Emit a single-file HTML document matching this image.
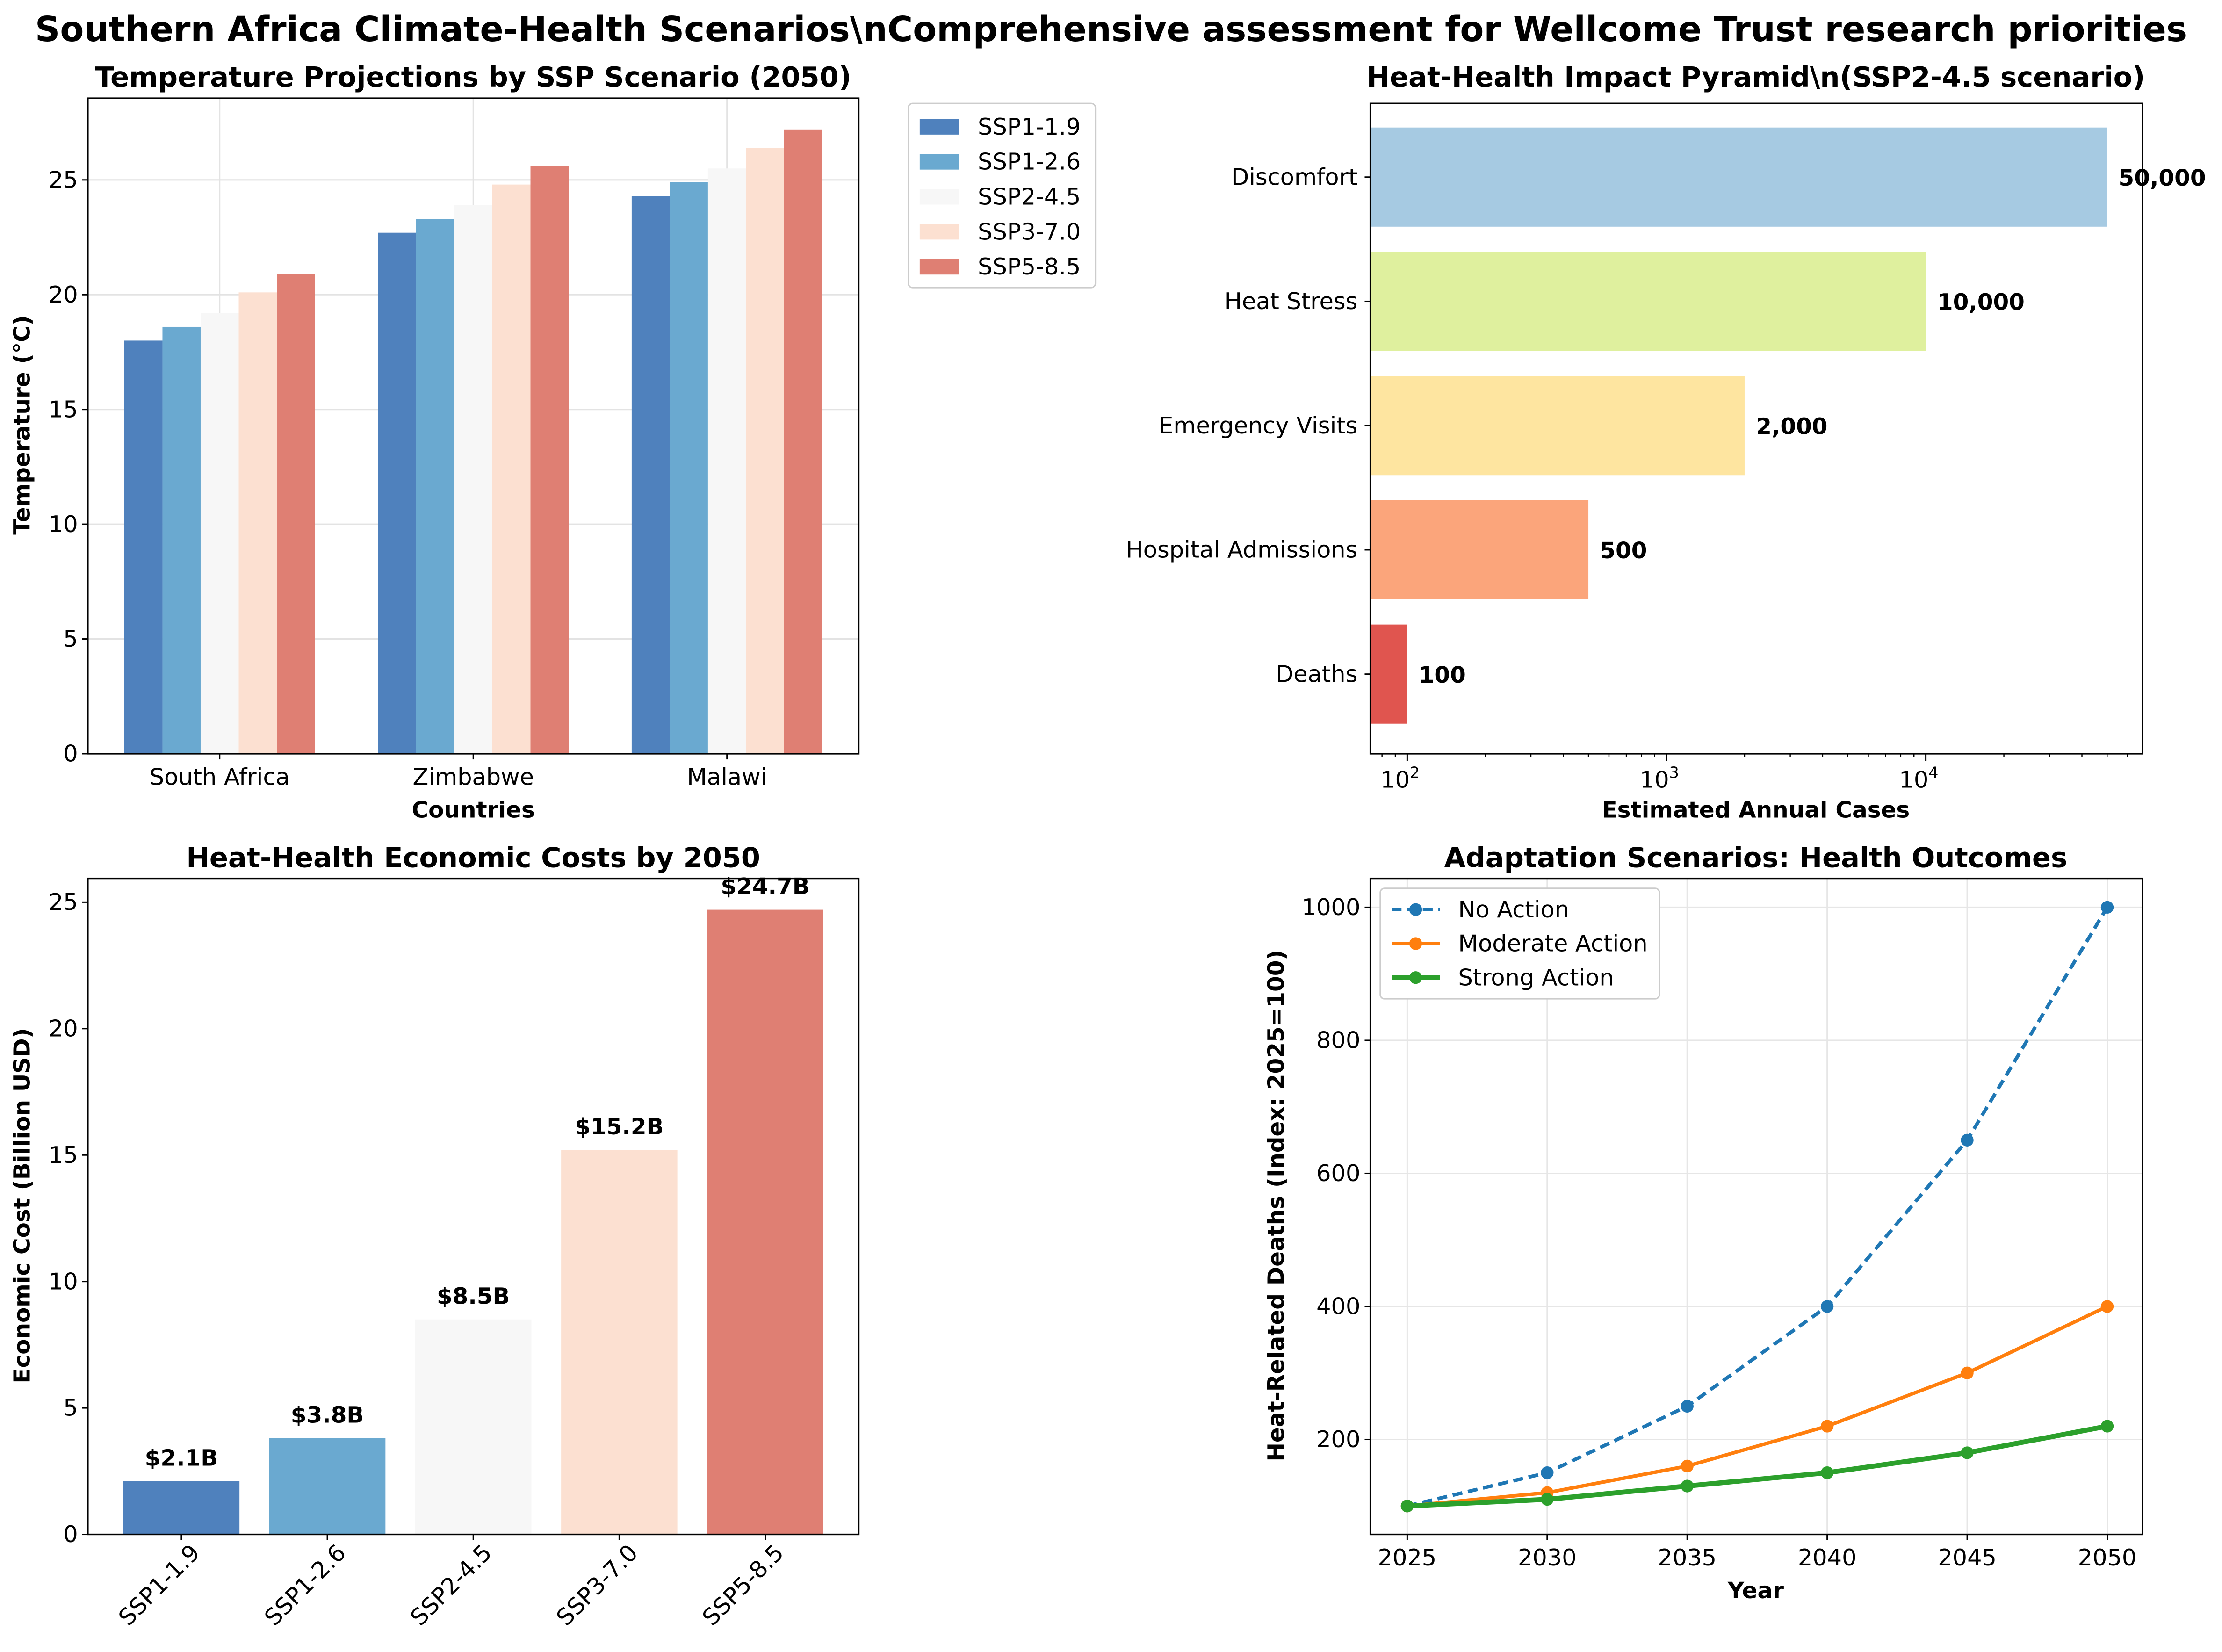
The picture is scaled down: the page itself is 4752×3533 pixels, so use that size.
<!DOCTYPE html>
<html><head><meta charset="utf-8"><style>
html,body{margin:0;padding:0;background:#fff}
svg{display:block;font-family:"DejaVu Sans","Liberation Sans",sans-serif}
</style></head><body>
<svg id="fig" width="4752" height="3533" viewBox="0 0 1568 1166" preserveAspectRatio="none" xmlns="http://www.w3.org/2000/svg">
<rect width="1568" height="1166" fill="#fff"/>
<text x="784" y="29" text-anchor="middle" font-size="24.5" font-weight="bold">Southern Africa Climate-Health Scenarios\nComprehensive assessment for Wellcome Trust research priorities</text>
<g id="p1"></g>
<g id="p2"></g>
<g id="p3"></g>
<g id="p4"></g>
</svg>
<script>
const countries=["South Africa","Zimbabwe","Malawi"];
const scenarios=["SSP1-1.9","SSP1-2.6","SSP2-4.5","SSP3-7.0","SSP5-8.5"];
const tempSA=[18.0,18.6,19.2,20.1,20.9];
const tempZW=[22.7,23.3,23.9,24.8,25.6];
const tempMW=[24.3,24.9,25.5,26.4,27.2];
const tempTicks=[0,5,10,15,20,25];
const impactCats=["Discomfort","Heat Stress","Emergency Visits","Hospital Admissions","Deaths"];
const impactVals=[50000,10000,2000,500,100];
const impactLabels=["50,000","10,000","2,000","500","100"];
const costVals=[2.1,3.8,8.5,15.2,24.7];
const costLabels=["$2.1B","$3.8B","$8.5B","$15.2B","$24.7B"];
const costTicks=[0,5,10,15,20,25];
const years=[2025,2030,2035,2040,2045,2050];
const noAction=[100,150,250,400,650,1000];
const moderate=[100,120,160,220,300,400];
const strong=[100,110,130,150,180,220];
const adaptTicks=[200,400,600,800,1000];

const NS="http://www.w3.org/2000/svg";
const TF=16.3, AF=16, PF=19.5, VF=16;
const scenColors=["#4f81bd","#6aa9d0","#f7f7f7","#fce0d1","#df7f73"];
function mk(parent,tag,attrs,txt){const e=document.createElementNS(NS,tag);for(const k in attrs)e.setAttribute(k,attrs[k]);if(txt!==undefined)e.textContent=txt;parent.appendChild(e);return e;}
function frame(g,x0,y0,x1,y1){const r=mk(g,"rect",{x:x0,y:y0,width:x1-x0,height:y1-y0,fill:"none",stroke:"#000","stroke-width":1.1});}

// Panel 1
(function(){
const g=document.getElementById("p1");
const X0=62,X1=606,Y1=532;
const y=v=>Y1-v*16.2;
const Y0=y(28.56);
const centers=[155,334,513];const bw=26.9;
tempTicks.forEach(t=>{mk(g,"line",{x1:X0,x2:X1,y1:y(t),y2:y(t),stroke:"#e3e3e3","stroke-width":1});});
centers.forEach(c=>{mk(g,"line",{x1:c,x2:c,y1:Y0,y2:Y1,stroke:"#e3e3e3","stroke-width":1});});
const series=[tempSA,tempZW,tempMW];
series.forEach((arr,ci)=>{arr.forEach((v,si)=>{
 const r=mk(g,"rect",{x:centers[ci]+(si-2.5)*bw,y:y(v),width:bw,height:Y1-y(v),fill:scenColors[si]});
 
 
});});
frame(g,X0,Y0,X1,Y1);
tempTicks.forEach(t=>{mk(g,"line",{x1:X0-4,x2:X0,y1:y(t),y2:y(t),stroke:"#000"});const l=mk(g,"text",{x:X0-7,y:y(t)+5.5,"text-anchor":"end","font-size":TF},t);});
countries.forEach((c,i)=>{mk(g,"line",{x1:centers[i],x2:centers[i],y1:Y1,y2:Y1+4,stroke:"#000"});const l=mk(g,"text",{x:centers[i],y:Y1+22,"text-anchor":"middle","font-size":TF},c);});
let t=mk(g,"text",{x:334,y:61,"text-anchor":"middle","font-size":PF,"font-weight":"bold"},"Temperature Projections by SSP Scenario (2050)");
t=mk(g,"text",{x:334,y:577,"text-anchor":"middle","font-size":AF,"font-weight":"bold"},"Countries");
t=mk(g,"text",{x:0,y:0,"text-anchor":"middle","font-size":AF,"font-weight":"bold",transform:"translate(21,300) rotate(-90)"},"Temperature (°C)");
const lg=mk(g,"g",{});
mk(lg,"rect",{x:641,y:73,width:132,height:130,rx:3,fill:"#fff",stroke:"#ccc"});
scenarios.forEach((s,i)=>{const yy=90+i*24.7;mk(lg,"rect",{x:649,y:yy-6,width:28,height:11,fill:scenColors[i]});const l=mk(lg,"text",{x:690,y:yy+5,"font-size":TF},s);});
})();

// Panel 2
(function(){
const g=document.getElementById("p2");
const X0=967,X1=1512,Y0=73,Y1=532;
const x=v=>993+(Math.log10(v)-2)*183;
const cols=["#a6cae2","#dff09e","#fee5a0","#fba57b","#e0554f"];
impactCats.forEach((c,i)=>{const cy=125+i*87.7;
 const r=mk(g,"rect",{x:X0,y:cy-35,width:x(impactVals[i])-X0,height:70,fill:cols[i]});
 
 mk(g,"text",{x:x(impactVals[i])+8,y:cy+6,"font-size":VF,"font-weight":"bold"},impactLabels[i]);
 mk(g,"line",{x1:X0-4,x2:X0,y1:cy,y2:cy,stroke:"#000"});
 const l=mk(g,"text",{x:X0-9,y:cy+5.5,"text-anchor":"end","font-size":TF},c);
});
frame(g,X0,Y0,X1,Y1);
[2,3,4].forEach(p=>{const xx=x(Math.pow(10,p));mk(g,"line",{x1:xx,x2:xx,y1:Y1,y2:Y1+5,stroke:"#000"});const t=mk(g,"text",{x:xx-5,y:Y1+24,"text-anchor":"middle","font-size":TF},"10");mk(t,"tspan",{dy:-7,"font-size":11},String(p));});
[80,90,200,300,400,500,600,700,800,900,2000,3000,4000,5000,6000,7000,8000,9000,20000,30000,40000,50000,60000].forEach(v=>{const xx=x(v);if(xx<X0||xx>X1)return;mk(g,"line",{x1:xx,x2:xx,y1:Y1,y2:Y1+2.5,stroke:"#000","stroke-width":0.8});});
let t=mk(g,"text",{x:1239,y:61,"text-anchor":"middle","font-size":PF,"font-weight":"bold"},"Heat-Health Impact Pyramid\\n(SSP2-4.5 scenario)");
t=mk(g,"text",{x:1239,y:577,"text-anchor":"middle","font-size":AF,"font-weight":"bold"},"Estimated Annual Cases");
})();

// Panel 3
(function(){
const g=document.getElementById("p3");
const X0=62,X1=606,Y0=620,Y1=1083;
const y=v=>Y1-v*17.85;
const centers=[128,231,334,437,540];
costVals.forEach((v,i)=>{const r=mk(g,"rect",{x:centers[i]-41,y:y(v),width:82,height:Y1-y(v),fill:scenColors[i]});
 
 mk(g,"text",{x:centers[i],y:y(v)-11,"text-anchor":"middle","font-size":VF,"font-weight":"bold"},costLabels[i]);
 mk(g,"line",{x1:centers[i],x2:centers[i],y1:Y1,y2:Y1+4,stroke:"#000"});
 const l=mk(g,"text",{x:0,y:0,"text-anchor":"end","font-size":TF,transform:`translate(${centers[i]+14},${Y1+14}) rotate(-45)`},scenarios[i]);
});
frame(g,X0,Y0,X1,Y1);
costTicks.forEach(t=>{mk(g,"line",{x1:X0-4,x2:X0,y1:y(t),y2:y(t),stroke:"#000"});const l=mk(g,"text",{x:X0-7,y:y(t)+5.5,"text-anchor":"end","font-size":TF},t);});
let t=mk(g,"text",{x:334,y:612,"text-anchor":"middle","font-size":PF,"font-weight":"bold"},"Heat-Health Economic Costs by 2050");
t=mk(g,"text",{x:0,y:0,"text-anchor":"middle","font-size":AF,"font-weight":"bold",transform:"translate(21,851) rotate(-90)"},"Economic Cost (Billion USD)");
})();

// Panel 4
(function(){
const g=document.getElementById("p4");
const X0=967,X1=1512,Y0=620,Y1=1083;
const x=v=>993+(v-2025)*19.76;
const y=v=>1016-(v-200)*0.4695;
years.forEach(v=>mk(g,"line",{x1:x(v),x2:x(v),y1:Y0,y2:Y1,stroke:"#e6e6e6"}));
adaptTicks.forEach(v=>mk(g,"line",{x1:X0,x2:X1,y1:y(v),y2:y(v),stroke:"#e6e6e6"}));
const ser=[[noAction,"#1f77b4",2.5,"7,4","no-action-line"],[moderate,"#ff7f0e",2.5,"","moderate-action-line"],[strong,"#2ca02c",3.5,"","strong-action-line"]];
ser.forEach(s=>{const pts=s[0].map((v,i)=>x(years[i])+","+y(v)).join(" ");
 const p=mk(g,"polyline",{points:pts,fill:"none",stroke:s[1],"stroke-width":s[2],"stroke-dasharray":s[3]});
 
 s[0].forEach((v,i)=>mk(g,"circle",{cx:x(years[i]),cy:y(v),r:4.5,fill:s[1]}));
});
frame(g,X0,Y0,X1,Y1);
years.forEach(v=>{mk(g,"line",{x1:x(v),x2:x(v),y1:Y1,y2:Y1+4,stroke:"#000"});const l=mk(g,"text",{x:x(v),y:Y1+22,"text-anchor":"middle","font-size":TF},v);});
adaptTicks.forEach(v=>{mk(g,"line",{x1:X0-4,x2:X0,y1:y(v),y2:y(v),stroke:"#000"});const l=mk(g,"text",{x:X0-7,y:y(v)+5.5,"text-anchor":"end","font-size":TF},v);});
let t=mk(g,"text",{x:1239,y:612,"text-anchor":"middle","font-size":PF,"font-weight":"bold"},"Adaptation Scenarios: Health Outcomes");
t=mk(g,"text",{x:1239,y:1128,"text-anchor":"middle","font-size":AF,"font-weight":"bold"},"Year");
t=mk(g,"text",{x:0,y:0,"text-anchor":"middle","font-size":AF,"font-weight":"bold",transform:"translate(906,851) rotate(-90)"},"Heat-Related Deaths (Index: 2025=100)");
const lg=mk(g,"g",{});
mk(lg,"rect",{x:974,y:627,width:197,height:78,rx:3,fill:"#fff",stroke:"#ccc"});
const names=["No Action","Moderate Action","Strong Action"];
ser.forEach((s,i)=>{const yy=642+i*24;mk(lg,"line",{x1:982,x2:1016,y1:yy,y2:yy,stroke:s[1],"stroke-width":s[2],"stroke-dasharray":s[3]});mk(lg,"circle",{cx:999,cy:yy,r:4.5,fill:s[1]});const l=mk(lg,"text",{x:1029,y:yy+5.5,"font-size":TF},names[i]);});
})();
</script>
</body></html>
